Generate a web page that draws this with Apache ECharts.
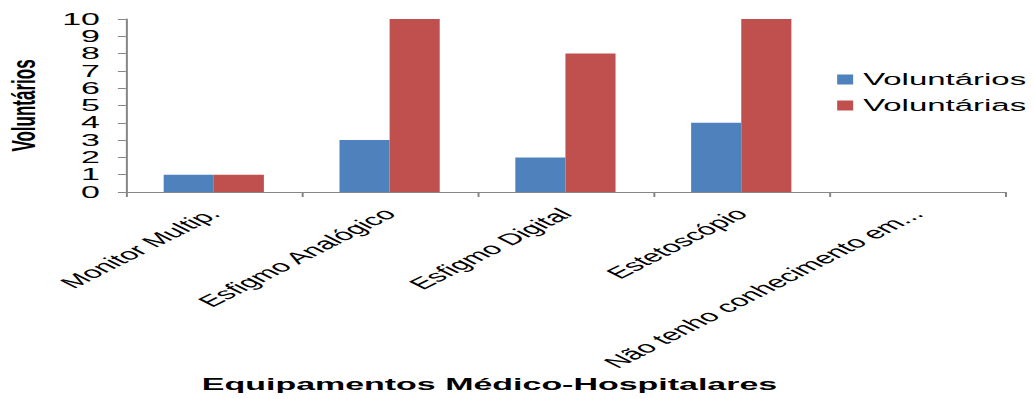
<!DOCTYPE html>
<html>
<head>
<meta charset="utf-8">
<script src="https://cdn.jsdelivr.net/npm/echarts@6/dist/echarts.min.js"></script>
<style>
  html, body { margin: 0; padding: 0; background: #fff; overflow: hidden; }
  /* the chart is laid out at half width and widened 2x horizontally */
  #chart { width: 518px; height: 399px; transform: scaleX(1.998); transform-origin: 0 0; }
</style>
</head>
<body>
<div id="chart"></div>
<script>
const categories = ['Monitor Multip.', 'Esfigmo Analógico', 'Esfigmo Digital', 'Estetoscópio', 'Não tenho conhecimento em...'];
const voluntarios = [1, 3, 2, 4, 0];
const voluntarias = [1, 10, 8, 10, 0];
const yTicks = [0, 1, 2, 3, 4, 5, 6, 7, 8, 9, 10];

const FONT = '"Liberation Sans", Arial, sans-serif';
const AXIS_GRAY = '#868686';

const chart = echarts.init(document.getElementById('chart'), null, { renderer: 'svg' });

chart.setOption({
  animation: false,
  textStyle: { fontFamily: FONT },
  grid: { left: 63, right: 15, top: 19, bottom: 207, containLabel: false, outerBoundsMode: 'none' },
  legend: {
    orient: 'vertical',
    left: 414,
    top: 66,
    itemWidth: 8,
    itemHeight: 10,
    itemGap: 9,
    icon: 'rect',
    textStyle: { fontFamily: FONT, fontSize: 16.5, color: '#000' },
    data: ['Voluntários', 'Voluntárias']
  },
  xAxis: {
    type: 'category',
    data: categories,
    name: 'Equipamentos Médico-Hospitalares',
    nameLocation: 'middle',
    nameGap: 184,
    nameTextStyle: { fontFamily: FONT, fontSize: 17, fontWeight: 'bold', color: '#000', padding: [0, 76, 0, 0] },
    axisLine: { lineStyle: { color: AXIS_GRAY, width: 1 } },
    axisTick: { show: true, length: 5, lineStyle: { color: AXIS_GRAY } },
    axisLabel: { rotate: 45, margin: 19, fontSize: 16, color: '#000', fontFamily: FONT, interval: 0 }
  },
  yAxis: {
    type: 'value',
    min: yTicks[0],
    max: yTicks[yTicks.length - 1],
    interval: 1,
    name: 'Voluntários',
    nameLocation: 'middle',
    nameRotate: 90,
    nameGap: 42,
    nameTextStyle: { fontFamily: FONT, fontSize: 17, fontWeight: 'bold', color: '#000' },
    axisLine: { show: true, lineStyle: { color: AXIS_GRAY, width: 1 } },
    axisTick: { show: true, length: 4, lineStyle: { color: AXIS_GRAY } },
    splitLine: { show: false },
    axisLabel: { margin: 13, fontSize: 17, color: '#000', fontFamily: FONT }
  },
  series: [
    {
      name: 'Voluntários',
      type: 'bar',
      data: voluntarios,
      barGap: '0%',
      barCategoryGap: '43%',
      itemStyle: { color: '#4F81BD' }
    },
    {
      name: 'Voluntárias',
      type: 'bar',
      data: voluntarias,
      barGap: '0%',
      barCategoryGap: '43%',
      itemStyle: { color: '#C0504D' }
    }
  ]
});
</script>
</body>
</html>
